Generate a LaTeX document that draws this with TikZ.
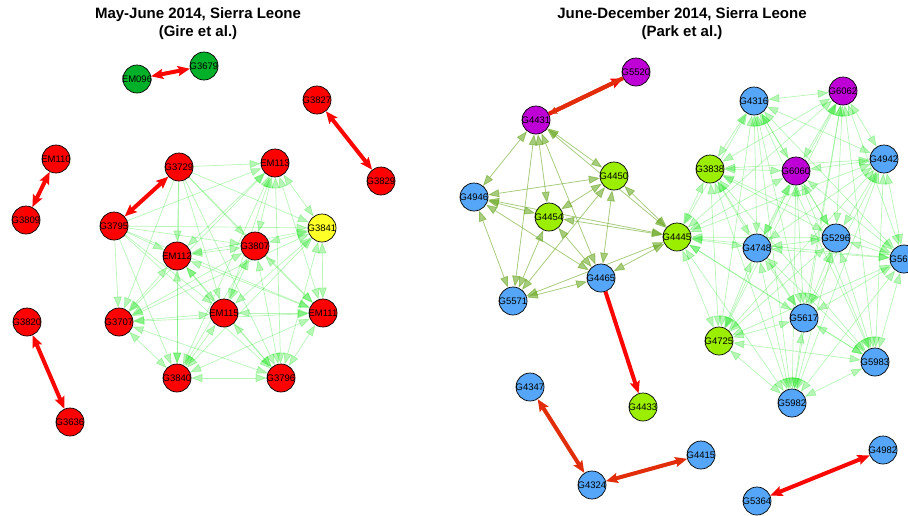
\documentclass[tikz,border=0pt]{standalone}
\usepackage{fontspec}
\setmainfont{Liberation Sans}
\usetikzlibrary{arrows.meta,backgrounds}
\definecolor{cred}{RGB}{255,0,0}
\definecolor{cgreen}{RGB}{0,176,40}
\definecolor{cyellow}{RGB}{255,255,40}
\definecolor{cpurple}{RGB}{190,0,215}
\definecolor{clime}{RGB}{155,238,0}
\definecolor{cblue}{RGB}{85,166,248}
\definecolor{gline}{RGB}{50,230,50}
\definecolor{oline}{RGB}{110,170,40}
\definecolor{redge}{RGB}{250,5,0}
\definecolor{bedge}{RGB}{225,45,10}
\newcommand\vx[4]{\node[vert,fill=#4] (#1) at (#2,#3) {\makebox[0pt]{#1}};}
\begin{document}
\begin{tikzpicture}[x=1pt,y=-1pt,
  vert/.style={circle,draw=black,line width=0.7pt,minimum size=28pt,inner sep=0pt,
    font=\fontsize{9.5}{10}\selectfont},
  title/.style={font=\fontsize{15}{18}\selectfont\bfseries,align=center},
  gedge/.style={draw=gline,opacity=0.35,line width=0.7pt,>={Triangle[length=11pt,width=8pt]}},
  oedge/.style={draw=oline,opacity=0.6,line width=0.8pt,>={Triangle[length=11pt,width=8pt]}},
  redline/.style={draw=redge,line width=4pt,>={Stealth[length=12pt,width=10pt,inset=2pt]}}]
\useasboundingbox (0,0) rectangle (908,515);

\node[title] (t1) at (198,24) {May-June 2014, Sierra Leone\\(Gire et al.)};
\node[title] (t2) at (682,24) {June-December 2014, Sierra Leone\\(Park et al.)};

% left panel
\vx{EM096}{137}{79}{cgreen}
\vx{G3679}{204}{66}{cgreen}
\vx{G3827}{317}{100}{cred}
\vx{G3829}{381}{181}{cred}
\vx{EM110}{56}{159}{cred}
\vx{G3809}{26}{220}{cred}
\vx{G3729}{179}{167}{cred}
\vx{EM113}{275}{163}{cred}
\vx{G3795}{114}{226}{cred}
\vx{G3841}{322}{228}{cyellow}
\vx{EM112}{177}{256}{cred}
\vx{G3807}{255}{246}{cred}
\vx{G3707}{119}{322}{cred}
\vx{EM115}{224}{313}{cred}
\vx{EM111}{323}{313}{cred}
\vx{G3820}{27}{322}{cred}
\vx{G3840}{177}{378}{cred}
\vx{G3796}{281}{378}{cred}
\vx{G3636}{70}{422}{cred}

% right panel
\vx{G5520}{636}{72}{cpurple}
\vx{G4431}{536}{120}{cpurple}
\vx{G4450}{614}{176}{clime}
\vx{G4946}{474}{197}{cblue}
\vx{G4454}{549}{217}{clime}
\vx{G4445}{677}{237}{clime}
\vx{G4465}{601}{278}{cblue}
\vx{G5571}{513}{301}{cblue}
\vx{G4316}{754}{101}{cblue}
\vx{G6062}{843}{91}{cpurple}
\vx{G4942}{884}{159}{cblue}
\vx{G3838}{710}{169}{clime}
\vx{G6060}{796}{171}{cpurple}
\vx{G4748}{757}{248}{cblue}
\vx{G5296}{836}{238}{cblue}
\node[vert,fill=cblue] (G56) at (904,259) {\makebox[0pt]{G56\phantom{00}}};
\vx{G5617}{804}{318}{cblue}
\vx{G4725}{719}{341}{clime}
\vx{G5983}{875}{362}{cblue}
\vx{G5982}{792}{403}{cblue}
\vx{G4347}{530}{387}{cblue}
\vx{G4433}{643}{407}{clime}
\vx{G4415}{701}{455}{cblue}
\vx{G4324}{592}{485}{cblue}
\vx{G4982}{883}{450}{cblue}
\vx{G5364}{757}{501}{cblue}

\begin{scope}[on background layer]
% left cluster (first two are sources)
\foreach \a [count=\i] in {G3729,G3795,EM113,G3841,EM112,G3807,G3707,EM115,EM111,G3840,G3796}{
  \foreach \b [count=\j] in {G3729,G3795,EM113,G3841,EM112,G3807,G3707,EM115,EM111,G3840,G3796}{
    \ifnum\j>\i
      \ifnum\i>2
        \draw[gedge,<->] (\a) -- (\b);
      \else
        \ifnum\j>2 \draw[gedge,->] (\a) -- (\b); \fi
      \fi
    \fi}}
% right big cluster
\foreach \a [count=\i] in {G4445,G3838,G4316,G6062,G6060,G4942,G4748,G5296,G56,G5617,G4725,G5983,G5982}{
  \foreach \b [count=\j] in {G4445,G3838,G4316,G6062,G6060,G4942,G4748,G5296,G56,G5617,G4725,G5983,G5982}{
    \ifnum\j>\i \draw[gedge,<->] (\a) -- (\b); \fi}}
% right small cluster
\foreach \a [count=\i] in {G4431,G4450,G4946,G4454,G4445,G4465,G5571}{
  \foreach \b [count=\j] in {G4431,G4450,G4946,G4454,G4445,G4465,G5571}{
    \ifnum\j>\i \draw[oedge,<->] (\a) -- (\b); \fi}}
\end{scope}

% red links
\draw[redline,<->] (EM096) -- (G3679);
\draw[redline,<->] (G3827) -- (G3829);
\draw[redline,<->] (EM110) -- (G3809);
\draw[redline,<->] (G3729) -- (G3795);
\draw[redline,<->] (G3820) -- (G3636);
\draw[redline,->] (G4431) -- (G5520);
\draw[redline,->,>={Stealth[length=8pt,width=7pt,inset=1.5pt]},draw=bedge] (G5520) -- (G4431);
\draw[redline,->] (G4465) -- (G4433);
\draw[redline,<->,draw=bedge] (G4347) -- (G4324);
\draw[redline,<->,draw=bedge] (G4324) -- (G4415);
\draw[redline,<->] (G5364) -- (G4982);
\end{tikzpicture}
\end{document}
